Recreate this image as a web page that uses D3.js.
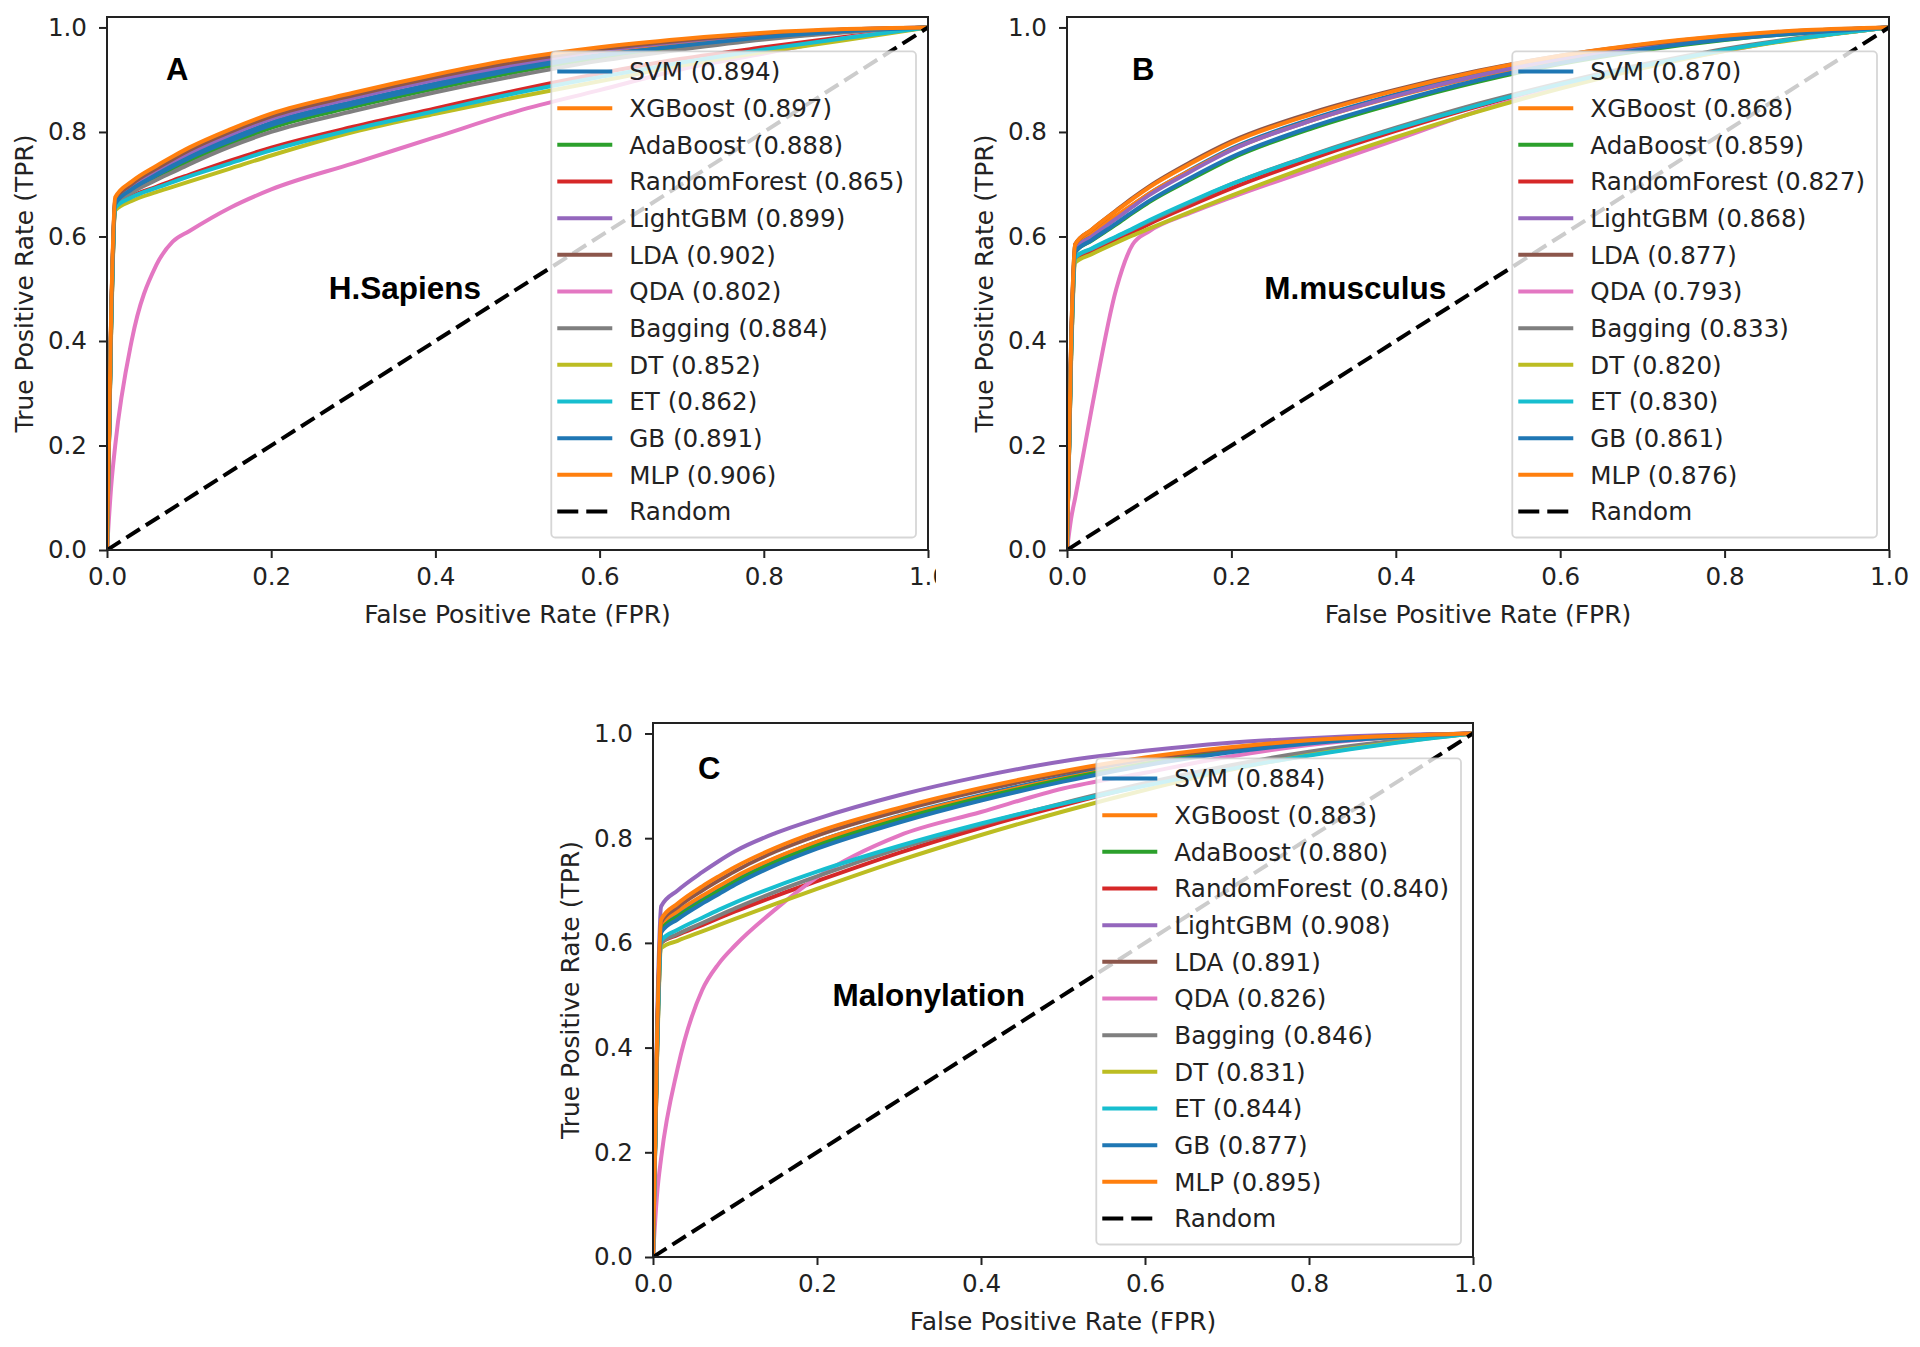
<!DOCTYPE html>
<html>
<head>
<meta charset="utf-8">
<script src="https://cdn.jsdelivr.net/npm/d3@7"></script>
<style>
body { margin: 0; background: #fff; }
svg { display: block; }
text { font-family: "DejaVu Sans", sans-serif; fill: #222; }
</style>
</head>
<body>
<svg id="fig"></svg>
<script>
//Data
var fprGrid = [0, 0.005, 0.01, 0.03, 0.06, 0.08, 0.1, 0.15, 0.2, 0.3, 0.4, 0.5, 0.6, 0.7, 0.8, 0.9, 1];

var modelNames = ["SVM", "XGBoost", "AdaBoost", "RandomForest", "LightGBM", "LDA",
                  "QDA", "Bagging", "DT", "ET", "GB", "MLP"];
var modelColors = ["#1f77b4", "#ff7f0e", "#2ca02c", "#d62728", "#9467bd", "#8c564b",
                   "#e377c2", "#7f7f7f", "#bcbd22", "#17becf", "#1f77b4", "#ff7f0e"];

var aucSapiens      = [0.894, 0.897, 0.888, 0.865, 0.899, 0.902, 0.802, 0.884, 0.852, 0.862, 0.891, 0.906];
var aucMusculus     = [0.870, 0.868, 0.859, 0.827, 0.868, 0.877, 0.793, 0.833, 0.820, 0.830, 0.861, 0.876];
var aucMalonylation = [0.884, 0.883, 0.880, 0.840, 0.908, 0.891, 0.826, 0.846, 0.831, 0.844, 0.877, 0.895];

//TPR at each fprGrid point, one row per model (same order as modelNames)
var tprSapiens = [
  [0, .43, .665, .692, .72, .738, .755, .788, .818, .858, .893, .925, .95, .968, .983, .994, 1],
  [0, .44, .67, .70, .73, .748, .765, .80, .83, .87, .903, .932, .955, .971, .984, .994, 1],
  [0, .43, .66, .687, .713, .729, .745, .778, .808, .848, .883, .915, .942, .962, .979, .992, 1],
  [0, .42, .655, .677, .695, .707, .718, .745, .77, .81, .845, .88, .912, .94, .962, .982, 1],
  [0, .44, .668, .697, .727, .744, .76, .795, .825, .865, .90, .93, .955, .973, .987, .996, 1],
  [0, .44, .67, .70, .73, .748, .765, .80, .83, .87, .905, .935, .958, .975, .988, .996, 1],
  [0, .12, .2, .40, .545, .59, .61, .655, .69, .74, .79, .84, .88, .92, .95, .98, 1],
  [0, .42, .66, .684, .708, .723, .738, .772, .80, .84, .876, .908, .936, .958, .977, .991, 1],
  [0, .41, .65, .668, .685, .695, .705, .73, .755, .80, .835, .867, .897, .927, .953, .976, 1],
  [0, .42, .655, .675, .693, .704, .715, .74, .765, .805, .84, .875, .905, .933, .958, .98, 1],
  [0, .43, .662, .69, .717, .734, .75, .783, .813, .853, .888, .92, .946, .965, .981, .993, 1],
  [0, .45, .675, .705, .735, .753, .77, .805, .835, .875, .91, .94, .962, .978, .99, .997, 1]
];

var tprMusculus = [
  [0, .39, .575, .602, .637, .66, .682, .727, .768, .826, .872, .911, .942, .965, .982, .993, 1],
  [0, .39, .585, .608, .64, .661, .682, .726, .766, .823, .868, .906, .937, .961, .979, .991, 1],
  [0, .38, .57, .592, .623, .645, .666, .709, .749, .808, .855, .896, .93, .956, .976, .99, 1],
  [0, .37, .555, .57, .592, .608, .624, .659, .692, .75, .802, .849, .89, .926, .957, .981, 1],
  [0, .39, .575, .60, .634, .657, .679, .724, .765, .823, .869, .908, .94, .963, .981, .992, 1],
  [0, .40, .585, .613, .65, .674, .696, .742, .782, .838, .881, .917, .946, .967, .983, .994, 1],
  [0, .06, .10, .27, .50, .585, .61, .645, .675, .73, .785, .84, .885, .925, .955, .982, 1],
  [0, .37, .56, .576, .599, .614, .629, .665, .70, .757, .808, .854, .894, .929, .959, .982, 1],
  [0, .36, .55, .566, .588, .602, .615, .647, .678, .737, .79, .839, .883, .922, .955, .98, 1],
  [0, .37, .56, .577, .60, .615, .631, .667, .70, .756, .806, .851, .891, .926, .957, .981, 1],
  [0, .38, .57, .593, .625, .647, .668, .712, .752, .811, .858, .899, .932, .958, .977, .99, 1],
  [0, .40, .585, .613, .649, .672, .694, .739, .779, .835, .879, .916, .946, .968, .984, .995, 1]
];

var tprMalonylation = [
  [0, .41, .63, .656, .687, .706, .724, .762, .793, .842, .882, .917, .946, .968, .984, .994, 1],
  [0, .41, .635, .66, .69, .708, .726, .763, .793, .841, .88, .914, .943, .965, .982, .993, 1],
  [0, .41, .625, .65, .68, .699, .717, .755, .786, .836, .877, .912, .942, .965, .982, .993, 1],
  [0, .39, .60, .615, .634, .647, .66, .69, .718, .772, .82, .863, .902, .936, .963, .984, 1],
  [0, .45, .67, .70, .735, .756, .775, .81, .837, .882, .918, .947, .967, .982, .991, .997, 1],
  [0, .42, .64, .668, .70, .719, .737, .775, .805, .852, .891, .924, .951, .971, .986, .995, 1],
  [0, .12, .19, .36, .51, .56, .595, .665, .725, .805, .85, .895, .925, .955, .978, .993, 1],
  [0, .39, .60, .617, .638, .652, .666, .698, .727, .78, .826, .867, .905, .938, .965, .985, 1],
  [0, .38, .59, .604, .622, .634, .646, .675, .703, .757, .806, .851, .892, .929, .959, .982, 1],
  [0, .39, .605, .625, .648, .663, .677, .708, .736, .785, .828, .866, .90, .931, .958, .981, 1],
  [0, .40, .62, .645, .675, .693, .711, .749, .78, .83, .872, .908, .939, .963, .981, .993, 1],
  [0, .42, .645, .675, .708, .727, .745, .782, .812, .858, .896, .928, .954, .973, .987, .995, 1]
];

var xTicks = [0, 0.2, 0.4, 0.6, 0.8, 1.0];
var yTicks = [0, 0.2, 0.4, 0.6, 0.8, 1.0];

//Layout settings
var screenSettings = { width: 1920, height: 1347 };
var fontSize = 24.6;
var labelSize = 25;

var panels = [
  { id: "A", left: 107, right: 928, top: 17, bottom: 550, clipRight: 936,
    tpr: tprSapiens, auc: aucSapiens, letter: "A", letterPos: [0.072, 0.90],
    title: "H.Sapiens", titlePos: [0.27, 0.48] },
  { id: "B", left: 1067, right: 1889, top: 17, bottom: 550, clipRight: null,
    tpr: tprMusculus, auc: aucMusculus, letter: "B", letterPos: [0.079, 0.90],
    title: "M.musculus", titlePos: [0.24, 0.48] },
  { id: "C", left: 653, right: 1473, top: 723, bottom: 1257, clipRight: null,
    tpr: tprMalonylation, auc: aucMalonylation, letter: "C", letterPos: [0.055, 0.913],
    title: "Malonylation", titlePos: [0.219, 0.479] }
];

var svg = d3.select("#fig")
            .attr("width", screenSettings.width)
            .attr("height", screenSettings.height);
var defs = svg.append("defs");

var drawPanel = function(panel)
{
  var g = svg.append("g").classed("panel", true);

  //panel A is cut off on the right in the original figure
  if (panel.clipRight) {
    defs.append("clipPath").attr("id", "cut-" + panel.id)
        .append("rect").attr("x", 0).attr("y", 0)
        .attr("width", panel.clipRight).attr("height", 700);
    g.attr("clip-path", "url(#cut-" + panel.id + ")");
  }

  var xScale = d3.scaleLinear().domain([0, 1]).range([panel.left, panel.right]);
  var yScale = d3.scaleLinear().domain([0, 1.02]).range([panel.bottom, panel.top]);

  defs.append("clipPath").attr("id", "plot-" + panel.id)
      .append("rect")
      .attr("x", panel.left).attr("y", panel.top)
      .attr("width", panel.right - panel.left)
      .attr("height", panel.bottom - panel.top);

  var line = d3.line()
               .x(function(d){ return xScale(d[0]); })
               .y(function(d){ return yScale(d[1]); })
               .curve(d3.curveMonotoneX);

  var plot = g.append("g").attr("clip-path", "url(#plot-" + panel.id + ")");

  plot.selectAll("path.roc")
      .data(panel.tpr)
      .enter()
      .append("path")
      .classed("roc", true)
      .attr("d", function(vals){ return line(fprGrid.map(function(f, j){ return [f, vals[j]]; })); })
      .attr("fill", "none")
      .attr("stroke", function(d, i){ return modelColors[i]; })
      .attr("stroke-width", 4)
      .attr("stroke-linejoin", "round");

  plot.append("path")
      .attr("d", d3.line().x(function(d){ return xScale(d); }).y(function(d){ return yScale(d); })([0, 1]))
      .attr("fill", "none")
      .attr("stroke", "#000")
      .attr("stroke-width", 4)
      .attr("stroke-dasharray", "16,7");

  //axes
  var xAxis = d3.axisBottom(xScale).tickValues(xTicks).tickFormat(d3.format(".1f"))
                .tickSize(8).tickPadding(10).tickSizeOuter(0);
  var yAxis = d3.axisLeft(yScale).tickValues(yTicks).tickFormat(d3.format(".1f"))
                .tickSize(8).tickPadding(12).tickSizeOuter(0);

  var xg = g.append("g").attr("transform", "translate(0," + panel.bottom + ")").call(xAxis);
  var yg = g.append("g").attr("transform", "translate(" + panel.left + ",0)").call(yAxis);
  [xg, yg].forEach(function(ax){
    ax.attr("font-family", null).attr("font-size", null);
    ax.select(".domain").remove();
    ax.selectAll(".tick line").attr("stroke", "#222").attr("stroke-width", 2);
    ax.selectAll(".tick text").attr("fill", "#222").style("font-size", fontSize + "px");
  });

  //spines
  g.append("rect")
   .attr("x", panel.left).attr("y", panel.top)
   .attr("width", panel.right - panel.left)
   .attr("height", panel.bottom - panel.top)
   .attr("fill", "none")
   .attr("stroke", "#222")
   .attr("stroke-width", 2);

  //axis labels
  g.append("text")
   .attr("x", (panel.left + panel.right) / 2)
   .attr("y", panel.bottom + 72.5)
   .attr("text-anchor", "middle")
   .style("font-size", labelSize + "px")
   .text("False Positive Rate (FPR)");

  var yMid = (panel.top + panel.bottom) / 2;
  g.append("text")
   .attr("transform", "translate(" + (panel.left - 74) + "," + yMid + ") rotate(-90)")
   .attr("text-anchor", "middle")
   .style("font-size", labelSize + "px")
   .text("True Positive Rate (TPR)");

  //annotations
  g.append("text")
   .attr("x", xScale(panel.letterPos[0]))
   .attr("y", yScale(panel.letterPos[1]))
   .style("font-family", "'Liberation Sans', Arial, sans-serif")
   .style("font-weight", "bold")
   .style("font-size", "31px")
   .style("fill", "#000")
   .text(panel.letter);

  g.append("text")
   .attr("x", xScale(panel.titlePos[0]))
   .attr("y", yScale(panel.titlePos[1]))
   .style("font-family", "'Liberation Sans', Arial, sans-serif")
   .style("font-weight", "bold")
   .style("font-size", "31.5px")
   .style("fill", "#000")
   .text(panel.title);

  //legend
  var rows = modelNames.map(function(name, i){
    return { label: name + " (" + panel.auc[i].toFixed(3) + ")", color: modelColors[i], dash: null };
  });
  rows.push({ label: "Random", color: "#000", dash: "21,8" });

  var legend = g.append("g").classed("legend", true);
  var legendBox = legend.append("rect");
  var legendLines = legend.selectAll("g.legend-line")
                          .data(rows)
                          .enter()
                          .append("g")
                          .classed("legend-line", true);

  var labels = legendLines.append("text")
                          .style("font-size", fontSize + "px")
                          .text(function(d){ return d.label; });

  var maxW = 0;
  labels.each(function(){ maxW = Math.max(maxW, this.getComputedTextLength()); });

  var rowStep = 36.67;
  var legendW = 78 + maxW + 12;
  var legendH = 20 + 12 * rowStep + 26;
  var lx = panel.right - 12 - legendW;
  var ly = panel.bottom - 12.5 - legendH;

  legendBox.attr("x", lx).attr("y", ly)
           .attr("width", legendW).attr("height", legendH)
           .attr("rx", 4).attr("ry", 4)
           .attr("fill", "#fff").attr("fill-opacity", 0.8)
           .attr("stroke", "#cccccc").attr("stroke-opacity", 0.8)
           .attr("stroke-width", 1.8);

  legendLines.append("line")
             .attr("x1", lx + 6)
             .attr("x2", function(d){ return d.dash ? lx + 59 : lx + 61; })
             .attr("y1", function(d, i){ return ly + 20 + i * rowStep; })
             .attr("y2", function(d, i){ return ly + 20 + i * rowStep; })
             .attr("stroke", function(d){ return d.color; })
             .attr("stroke-width", 4)
             .attr("stroke-dasharray", function(d){ return d.dash; });

  labels.attr("x", lx + 78)
        .attr("y", function(d, i){ return ly + 20 + i * rowStep + 8.8; });
};

panels.forEach(drawPanel);
</script>
</body>
</html>
